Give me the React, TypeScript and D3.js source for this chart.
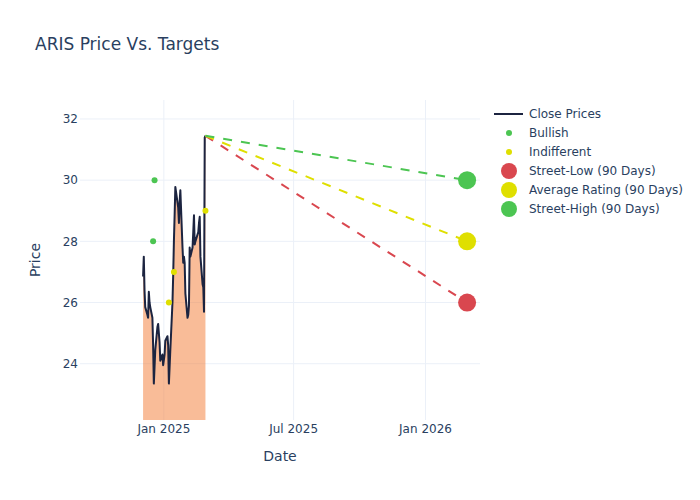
import React from "react";
import * as d3 from "d3";

const closeDates = [
  "2024-12-03","2024-12-04","2024-12-05","2024-12-06","2024-12-09","2024-12-10","2024-12-11","2024-12-12","2024-12-13",
  "2024-12-16","2024-12-17","2024-12-18","2024-12-19","2024-12-20","2024-12-23","2024-12-24","2024-12-26","2024-12-27",
  "2024-12-30","2024-12-31","2025-01-02","2025-01-03","2025-01-06","2025-01-07","2025-01-08","2025-01-10","2025-01-13",
  "2025-01-14","2025-01-15","2025-01-16","2025-01-17","2025-01-21","2025-01-22","2025-01-23","2025-01-24","2025-01-27",
  "2025-01-28","2025-01-29","2025-01-30","2025-01-31","2025-02-03","2025-02-04","2025-02-05","2025-02-06","2025-02-07",
  "2025-02-10","2025-02-11","2025-02-12","2025-02-13","2025-02-14","2025-02-18","2025-02-19","2025-02-20","2025-02-21",
  "2025-02-24","2025-02-25","2025-02-26","2025-02-27","2025-02-28",
];
const closePrices = [
  26.85, 27.5, 26.4, 25.85, 25.6, 25.5, 26.35, 26.0, 25.85,
  25.5, 24.6, 23.35, 23.9, 24.45, 25.2, 25.3, 24.7, 24.1,
  24.3, 23.95, 24.3, 24.75, 24.9, 24.6, 23.35, 24.45, 26.0,
  26.9, 28.0, 28.85, 29.78, 29.1, 28.6, 29.3, 29.67, 27.8,
  27.3, 27.5, 27.3, 26.3, 25.5, 25.6, 25.9, 27.8, 27.5,
  27.8, 28.3, 28.85, 27.9, 28.0, 28.3, 28.6, 28.8, 27.5,
  26.6, 26.5, 25.7, 31.4, 31.45,
];

const bullishDates = ["2024-12-17", "2024-12-19"];
const bullishValues = [28, 30];
const indifferentDates = ["2025-01-08", "2025-01-15", "2025-02-28"];
const indifferentValues = [26, 27, 29];

const targetDate = "2026-02-28";
const targetNames = ["Street-Low (90 Days)", "Average Rating (90 Days)", "Street-High (90 Days)"];
const targetValues = [26, 28, 30];
const targetColors = ["#d9474f", "#dfdf00", "#4cc552"];

const xTicks = ["2025-01-01", "2025-07-01", "2026-01-01"];
const xTickLabels = ["Jan 2025", "Jul 2025", "Jan 2026"];
const yTicks = [24, 26, 28, 30, 32];

const legendLabels = ["Close Prices", "Bullish", "Indifferent", ...targetNames];

const W = 700, H = 500;
const L = 80, R = 480, T = 100, B = 420;
const FONT = "'DejaVu Sans', Verdana, sans-serif";
const TXT = "#2a3f5f";
const GRID = "#ebf0f8";
const LINE = "#1c2440";
const BULL = "#4cc552";
const IND = "#dfdf00";

export default function App() {
  const parse = d3.utcParse("%Y-%m-%d");
  const x = d3.scaleUtc().domain([parse("2024-09-06")!, parse("2026-03-18")!]).range([L, R]);
  const y = d3.scaleLinear().domain([22.16, 32.62]).range([B, T]);

  const data = closeDates.map((d, i) => ({ d: parse(d)!, v: closePrices[i] }));
  const line = d3.line<{ d: Date; v: number }>().x((p) => x(p.d)).y((p) => y(p.v));
  const area = d3.area<{ d: Date; v: number }>().x((p) => x(p.d)).y0(y(0)).y1((p) => y(p.v));
  const last = data[data.length - 1];
  const td = parse(targetDate)!;

  return (
    <svg width={W} height={H} style={{ display: "block", position: "absolute", left: 0, top: 0 }} fontFamily={FONT}>
      <rect width={W} height={H} fill="#fff" />
      <defs>
        <clipPath id="plot">
          <rect x={L} y={T} width={R - L} height={B - T} />
        </clipPath>
      </defs>
      {yTicks.map((t) => (
        <line key={"gy" + t} x1={L} x2={R} y1={y(t)} y2={y(t)} stroke={GRID} strokeWidth={1} />
      ))}
      {xTicks.map((t) => (
        <line key={"gx" + t} x1={x(parse(t)!)} x2={x(parse(t)!)} y1={T} y2={B} stroke={GRID} strokeWidth={1} />
      ))}
      <g clipPath="url(#plot)">
        <path d={area(data)!} fill="rgba(244,122,50,0.5)" />
        <path d={line(data)!} fill="none" stroke={LINE} strokeWidth={2} strokeLinejoin="round" />
        {bullishDates.map((d, i) => (
          <circle key={"b" + i} cx={x(parse(d)!)} cy={y(bullishValues[i])} r={3} fill={BULL} />
        ))}
        {indifferentDates.map((d, i) => (
          <circle key={"n" + i} cx={x(parse(d)!)} cy={y(indifferentValues[i])} r={3} fill={IND} />
        ))}
        {targetValues.map((v, i) => (
          <line key={"tl" + i} x1={x(last.d)} y1={y(last.v)} x2={x(td)} y2={y(v)}
            stroke={targetColors[i]} strokeWidth={2} strokeDasharray="9,9" />
        ))}
        {targetValues.map((v, i) => (
          <circle key={"tm" + i} cx={x(td)} cy={y(v)} r={9} fill={targetColors[i]} />
        ))}
      </g>
      {yTicks.map((t) => (
        <text key={"ty" + t} x={L - 2} y={y(t)} dy="0.35em" textAnchor="end" fontSize={12} fill={TXT}>{t}</text>
      ))}
      {xTicks.map((t, i) => (
        <text key={"tx" + t} x={x(parse(t)!)} y={433} textAnchor="middle" fontSize={12} fill={TXT}>{xTickLabels[i]}</text>
      ))}
      <text x={(L + R) / 2} y={461} textAnchor="middle" fontSize={14} fill={TXT}>Date</text>
      <text transform={`translate(40,${(T + B) / 2}) rotate(-90)`} textAnchor="middle" fontSize={14} fill={TXT}>Price</text>
      <text x={35} y={50} fontSize={17} fill={TXT}>ARIS Price Vs. Targets</text>
      <g>
        {legendLabels.map((lab, i) => {
          const cy = 114 + i * 19;
          let sym;
          if (i === 0) sym = <line x1={494} x2={523} y1={cy} y2={cy} stroke={LINE} strokeWidth={2} />;
          else if (i === 1) sym = <circle cx={509} cy={cy} r={3} fill={BULL} />;
          else if (i === 2) sym = <circle cx={509} cy={cy} r={3} fill={IND} />;
          else sym = <circle cx={509} cy={cy} r={8} fill={targetColors[i - 3]} />;
          return (
            <g key={"lg" + i}>
              {sym}
              <text x={529} y={cy} dy="0.35em" fontSize={12} fill={TXT}>{lab}</text>
            </g>
          );
        })}
      </g>
    </svg>
  );
}
